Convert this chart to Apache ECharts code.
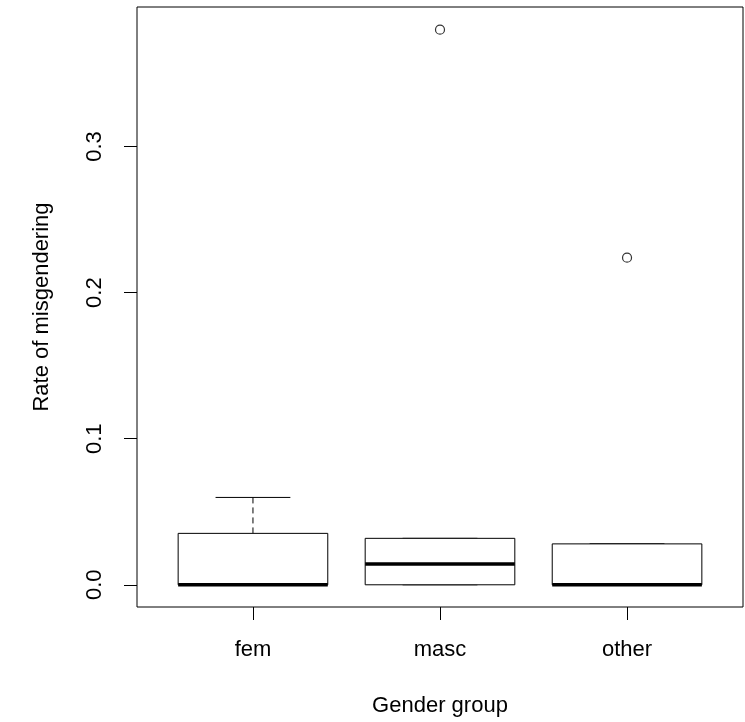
<!DOCTYPE html>
<html>
<head>
<meta charset="utf-8">
<script src="https://cdn.jsdelivr.net/npm/echarts@6/dist/echarts.min.js"></script>
<style>
html,body{margin:0;padding:0;background:#fff;}
#chart{width:745px;height:722px;}
</style>
</head>
<body>
<div id="chart"></div>
<script>
// Data
var categories = ['fem', 'masc', 'other'];
var positions = [1, 2, 3];
var mins    = [0, 0, 0];
var q1s     = [0, 0, 0];
var medians = [0, 0.0143, 0];
var q3s     = [0.0352, 0.0318, 0.0280];
var maxs    = [0.0598, 0.0318, 0.0280];
var outlierGroup = [2, 3];
var outlierValue = [0.380, 0.2239];
var yTicks = [0, 0.1, 0.2, 0.3];
var xAxisTitle = 'Gender group';
var yAxisTitle = 'Rate of misgendering';

var boxData = positions.map(function (p, i) {
  return [p, mins[i], q1s[i], medians[i], q3s[i], maxs[i]];
});
var outlierData = outlierGroup.map(function (g, i) { return [g, outlierValue[i]]; });

var FONT = '"Liberation Sans", Arial, sans-serif';
var TXT = '#000';
var BOXW = 0.4;   // half box width in x units (R boxwex 0.8)
var CAPW = 0.2;   // half staple width

function renderBox(params, api) {
  var x = api.value(0);
  var mn = api.value(1), q1 = api.value(2), md = api.value(3), q3 = api.value(4), mx = api.value(5);
  var tl = api.coord([x - BOXW, q3]);
  var br = api.coord([x + BOXW, q1]);
  var mL = api.coord([x - BOXW, md]);
  var mR = api.coord([x + BOXW, md]);
  var top = api.coord([x, mx]);
  var q3c = api.coord([x, q3]);
  var q1c = api.coord([x, q1]);
  var bot = api.coord([x, mn]);
  var capTL = api.coord([x - CAPW, mx]);
  var capTR = api.coord([x + CAPW, mx]);
  var capBL = api.coord([x - CAPW, mn]);
  var capBR = api.coord([x + CAPW, mn]);
  var lineStyle = { stroke: '#000', lineWidth: 1, fill: null };
  var dashStyle = { stroke: '#000', lineWidth: 1, lineDash: [6, 4], fill: null };
  var children = [];
  if (mx > q3) {
    children.push({ type: 'line', shape: { x1: top[0], y1: top[1], x2: q3c[0], y2: q3c[1] }, style: dashStyle });
  }
  children.push({ type: 'line', shape: { x1: capTL[0], y1: capTL[1], x2: capTR[0], y2: capTR[1] }, style: lineStyle });
  if (mn < q1) {
    children.push({ type: 'line', shape: { x1: bot[0], y1: bot[1], x2: q1c[0], y2: q1c[1] }, style: dashStyle });
  }
  children.push({ type: 'line', shape: { x1: capBL[0], y1: capBL[1], x2: capBR[0], y2: capBR[1] }, style: lineStyle });
  children.push({ type: 'rect', shape: { x: tl[0], y: tl[1], width: br[0] - tl[0], height: br[1] - tl[1] },
    style: { stroke: '#000', lineWidth: 1, fill: '#fff' } });
  children.push({ type: 'line', shape: { x1: mL[0], y1: mL[1], x2: mR[0], y2: mR[1] },
    style: { stroke: '#000', lineWidth: 3.5 } });
  return { type: 'group', children: children };
}

var chart = echarts.init(document.getElementById('chart'), null, { renderer: 'canvas' });
chart.setOption({
  animation: false,
  backgroundColor: '#fff',
  grid: {
    left: 137, right: 2, top: 7, bottom: 115,
    show: true, borderColor: '#000', borderWidth: 1, backgroundColor: 'transparent',
    containLabel: false
  },
  xAxis: {
    type: 'value',
    min: 0.38, max: 3.62,
    splitLine: { show: false },
    axisLine: { show: false, onZero: false },
    axisTick: { show: true, customValues: positions, length: 13, inside: false, lineStyle: { color: '#000', width: 1 } },
    axisLabel: {
      show: true, customValues: positions, margin: 32,
      fontFamily: FONT, fontSize: 22, color: TXT,
      formatter: function (v) { var i = positions.indexOf(Math.round(v)); return i >= 0 ? categories[i] : ''; }
    },
    name: xAxisTitle, nameLocation: 'middle', nameGap: 88,
    nameTextStyle: { fontFamily: FONT, fontSize: 22, color: TXT }
  },
  yAxis: {
    type: 'value',
    min: -0.0152, max: 0.3955,
    splitLine: { show: false },
    axisLine: { show: false, onZero: false },
    axisTick: { show: true, customValues: yTicks, length: 13, inside: false, lineStyle: { color: '#000', width: 1 } },
    axisLabel: {
      show: true, customValues: yTicks, margin: 31, rotate: 90,
      fontFamily: FONT, fontSize: 22, color: TXT,
      formatter: function (v) { return v.toFixed(1); }
    },
    name: yAxisTitle, nameLocation: 'middle', nameGap: 84, nameRotate: 90,
    nameTextStyle: { fontFamily: FONT, fontSize: 22, color: TXT }
  },
  series: [
    {
      type: 'custom',
      renderItem: renderBox,
      data: boxData,
      encode: { x: 0, y: [1, 2, 3, 4, 5] },
      silent: true
    },
    {
      type: 'scatter',
      data: outlierData,
      symbol: 'circle',
      symbolSize: 9,
      itemStyle: { color: '#fff', borderColor: '#000', borderWidth: 1.2 },
      silent: true
    }
  ]
});
</script>
</body>
</html>
